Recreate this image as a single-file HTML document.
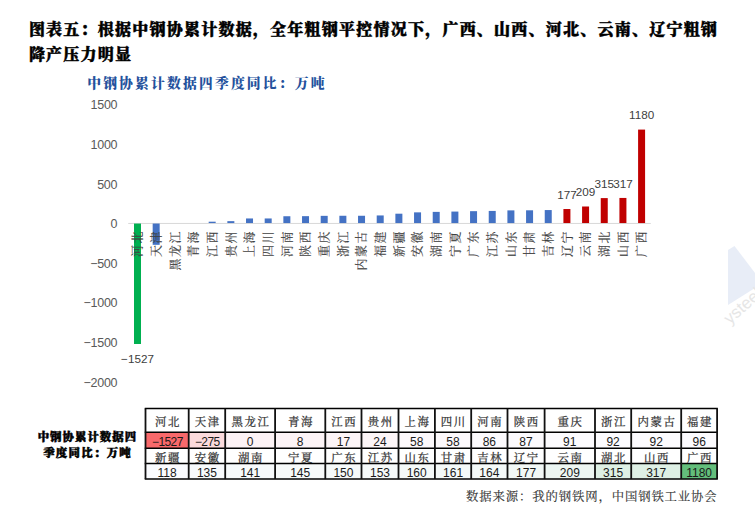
<!DOCTYPE html><html><head><meta charset="utf-8"><style>
html,body{margin:0;padding:0;background:#fff;width:755px;height:523px;overflow:hidden}
svg{display:block}
.t{font-family:"Liberation Serif","Noto Serif CJK SC",serif;font-weight:900;fill:#000}
.st{font-family:"Liberation Serif","Noto Serif CJK SC",serif;font-weight:900;fill:#24519C}
.tk{font-family:"Liberation Sans",Arial,sans-serif;fill:#595959}
.dl{font-family:"Liberation Sans",Arial,sans-serif;fill:#404040}
.cat{font-family:"Liberation Serif","Noto Serif CJK SC",serif;fill:#404040}
.tn{font-family:"Liberation Serif","Noto Serif CJK SC",serif;fill:#333}
.tv{font-family:"Liberation Sans",Arial,sans-serif;fill:#1a1a1a}
.src{font-family:"Liberation Serif","Noto Serif CJK SC",serif;fill:#333}
</style></head><body>
<svg width="755" height="523" viewBox="0 0 755 523">
<polygon points="728,250 734.5,246 755,273 755,288 728,305" fill="#E8EDF7"/>
<text x="0" y="0" font-family="Liberation Sans,sans-serif" font-size="17" fill="#E6E6E6" transform="translate(730 325) rotate(-42)">ysteel</text>
<text class="t" x="28.9" y="34.6" font-size="16" letter-spacing="1.23" stroke="#000" stroke-width="0.45">图表五：根据中钢协累计数据，全年粗钢平控情况下，广西、山西、河北、云南、辽宁粗钢</text>
<text class="t" x="28.9" y="60.1" font-size="16" letter-spacing="1.23" stroke="#000" stroke-width="0.45">降产压力明显</text>
<text class="st" x="87.2" y="88.0" font-size="13.8" letter-spacing="2.17">中钢协累计数据四季度同比：万吨</text>
<text class="tk" x="117.2" y="109.3" font-size="12.5" letter-spacing="-0.3" text-anchor="end">1500</text>
<text class="tk" x="117.2" y="149.0" font-size="12.5" letter-spacing="-0.3" text-anchor="end">1000</text>
<text class="tk" x="117.2" y="188.6" font-size="12.5" letter-spacing="-0.3" text-anchor="end">500</text>
<text class="tk" x="117.2" y="228.2" font-size="12.5" letter-spacing="-0.3" text-anchor="end">0</text>
<text class="tk" x="117.2" y="267.8" font-size="12.5" letter-spacing="-0.3" text-anchor="end">−500</text>
<text class="tk" x="117.2" y="307.4" font-size="12.5" letter-spacing="-0.3" text-anchor="end">−1000</text>
<text class="tk" x="117.2" y="347.0" font-size="12.5" letter-spacing="-0.3" text-anchor="end">−1500</text>
<text class="tk" x="117.2" y="386.6" font-size="12.5" letter-spacing="-0.3" text-anchor="end">−2000</text>
<rect x="128.2" y="222.95" width="522.6" height="1" fill="#D9D9D9"/>
<rect x="134.00" y="223.55" width="7.00" height="120.44" fill="#00B050"/>
<rect x="152.67" y="223.55" width="7.00" height="21.28" fill="#4472C4"/>
<rect x="208.68" y="221.70" width="7.00" height="1.35" fill="#4472C4"/>
<rect x="227.35" y="221.15" width="7.00" height="1.90" fill="#4472C4"/>
<rect x="246.02" y="218.46" width="7.00" height="4.59" fill="#4472C4"/>
<rect x="264.69" y="218.46" width="7.00" height="4.59" fill="#4472C4"/>
<rect x="283.36" y="216.24" width="7.00" height="6.81" fill="#4472C4"/>
<rect x="302.03" y="216.16" width="7.00" height="6.89" fill="#4472C4"/>
<rect x="320.70" y="215.84" width="7.00" height="7.21" fill="#4472C4"/>
<rect x="339.37" y="215.76" width="7.00" height="7.29" fill="#4472C4"/>
<rect x="358.04" y="215.76" width="7.00" height="7.29" fill="#4472C4"/>
<rect x="376.71" y="215.45" width="7.00" height="7.60" fill="#4472C4"/>
<rect x="395.38" y="213.70" width="7.00" height="9.35" fill="#4472C4"/>
<rect x="414.05" y="212.36" width="7.00" height="10.69" fill="#4472C4"/>
<rect x="432.72" y="211.88" width="7.00" height="11.17" fill="#4472C4"/>
<rect x="451.39" y="211.57" width="7.00" height="11.48" fill="#4472C4"/>
<rect x="470.06" y="211.17" width="7.00" height="11.88" fill="#4472C4"/>
<rect x="488.73" y="210.93" width="7.00" height="12.12" fill="#4472C4"/>
<rect x="507.40" y="210.38" width="7.00" height="12.67" fill="#4472C4"/>
<rect x="526.07" y="210.30" width="7.00" height="12.75" fill="#4472C4"/>
<rect x="544.74" y="210.06" width="7.00" height="12.99" fill="#4472C4"/>
<rect x="563.41" y="209.03" width="7.00" height="14.02" fill="#C00000"/>
<rect x="582.08" y="206.50" width="7.00" height="16.55" fill="#C00000"/>
<rect x="600.75" y="198.10" width="7.00" height="24.95" fill="#C00000"/>
<rect x="619.42" y="197.94" width="7.00" height="25.11" fill="#C00000"/>
<rect x="638.09" y="129.59" width="7.00" height="93.46" fill="#C00000"/>
<text class="cat" font-size="12" letter-spacing="1.6" text-anchor="end" dominant-baseline="central" stroke="#404040" stroke-width="0.15" transform="translate(138.20 229.8) rotate(-90)">河北</text>
<text class="cat" font-size="12" letter-spacing="1.6" text-anchor="end" dominant-baseline="central" stroke="#404040" stroke-width="0.15" transform="translate(156.87 229.8) rotate(-90)">天津</text>
<text class="cat" font-size="12" letter-spacing="1.6" text-anchor="end" dominant-baseline="central" stroke="#404040" stroke-width="0.15" transform="translate(175.54 229.8) rotate(-90)">黑龙江</text>
<text class="cat" font-size="12" letter-spacing="1.6" text-anchor="end" dominant-baseline="central" stroke="#404040" stroke-width="0.15" transform="translate(194.21 229.8) rotate(-90)">青海</text>
<text class="cat" font-size="12" letter-spacing="1.6" text-anchor="end" dominant-baseline="central" stroke="#404040" stroke-width="0.15" transform="translate(212.88 229.8) rotate(-90)">江西</text>
<text class="cat" font-size="12" letter-spacing="1.6" text-anchor="end" dominant-baseline="central" stroke="#404040" stroke-width="0.15" transform="translate(231.55 229.8) rotate(-90)">贵州</text>
<text class="cat" font-size="12" letter-spacing="1.6" text-anchor="end" dominant-baseline="central" stroke="#404040" stroke-width="0.15" transform="translate(250.22 229.8) rotate(-90)">上海</text>
<text class="cat" font-size="12" letter-spacing="1.6" text-anchor="end" dominant-baseline="central" stroke="#404040" stroke-width="0.15" transform="translate(268.89 229.8) rotate(-90)">四川</text>
<text class="cat" font-size="12" letter-spacing="1.6" text-anchor="end" dominant-baseline="central" stroke="#404040" stroke-width="0.15" transform="translate(287.56 229.8) rotate(-90)">河南</text>
<text class="cat" font-size="12" letter-spacing="1.6" text-anchor="end" dominant-baseline="central" stroke="#404040" stroke-width="0.15" transform="translate(306.23 229.8) rotate(-90)">陕西</text>
<text class="cat" font-size="12" letter-spacing="1.6" text-anchor="end" dominant-baseline="central" stroke="#404040" stroke-width="0.15" transform="translate(324.90 229.8) rotate(-90)">重庆</text>
<text class="cat" font-size="12" letter-spacing="1.6" text-anchor="end" dominant-baseline="central" stroke="#404040" stroke-width="0.15" transform="translate(343.57 229.8) rotate(-90)">浙江</text>
<text class="cat" font-size="12" letter-spacing="1.6" text-anchor="end" dominant-baseline="central" stroke="#404040" stroke-width="0.15" transform="translate(362.24 229.8) rotate(-90)">内蒙古</text>
<text class="cat" font-size="12" letter-spacing="1.6" text-anchor="end" dominant-baseline="central" stroke="#404040" stroke-width="0.15" transform="translate(380.91 229.8) rotate(-90)">福建</text>
<text class="cat" font-size="12" letter-spacing="1.6" text-anchor="end" dominant-baseline="central" stroke="#404040" stroke-width="0.15" transform="translate(399.58 229.8) rotate(-90)">新疆</text>
<text class="cat" font-size="12" letter-spacing="1.6" text-anchor="end" dominant-baseline="central" stroke="#404040" stroke-width="0.15" transform="translate(418.25 229.8) rotate(-90)">安徽</text>
<text class="cat" font-size="12" letter-spacing="1.6" text-anchor="end" dominant-baseline="central" stroke="#404040" stroke-width="0.15" transform="translate(436.92 229.8) rotate(-90)">湖南</text>
<text class="cat" font-size="12" letter-spacing="1.6" text-anchor="end" dominant-baseline="central" stroke="#404040" stroke-width="0.15" transform="translate(455.59 229.8) rotate(-90)">宁夏</text>
<text class="cat" font-size="12" letter-spacing="1.6" text-anchor="end" dominant-baseline="central" stroke="#404040" stroke-width="0.15" transform="translate(474.26 229.8) rotate(-90)">广东</text>
<text class="cat" font-size="12" letter-spacing="1.6" text-anchor="end" dominant-baseline="central" stroke="#404040" stroke-width="0.15" transform="translate(492.93 229.8) rotate(-90)">江苏</text>
<text class="cat" font-size="12" letter-spacing="1.6" text-anchor="end" dominant-baseline="central" stroke="#404040" stroke-width="0.15" transform="translate(511.60 229.8) rotate(-90)">山东</text>
<text class="cat" font-size="12" letter-spacing="1.6" text-anchor="end" dominant-baseline="central" stroke="#404040" stroke-width="0.15" transform="translate(530.27 229.8) rotate(-90)">甘肃</text>
<text class="cat" font-size="12" letter-spacing="1.6" text-anchor="end" dominant-baseline="central" stroke="#404040" stroke-width="0.15" transform="translate(548.94 229.8) rotate(-90)">吉林</text>
<text class="cat" font-size="12" letter-spacing="1.6" text-anchor="end" dominant-baseline="central" stroke="#404040" stroke-width="0.15" transform="translate(567.61 229.8) rotate(-90)">辽宁</text>
<text class="cat" font-size="12" letter-spacing="1.6" text-anchor="end" dominant-baseline="central" stroke="#404040" stroke-width="0.15" transform="translate(586.28 229.8) rotate(-90)">云南</text>
<text class="cat" font-size="12" letter-spacing="1.6" text-anchor="end" dominant-baseline="central" stroke="#404040" stroke-width="0.15" transform="translate(604.95 229.8) rotate(-90)">湖北</text>
<text class="cat" font-size="12" letter-spacing="1.6" text-anchor="end" dominant-baseline="central" stroke="#404040" stroke-width="0.15" transform="translate(623.62 229.8) rotate(-90)">山西</text>
<text class="cat" font-size="12" letter-spacing="1.6" text-anchor="end" dominant-baseline="central" stroke="#404040" stroke-width="0.15" transform="translate(642.29 229.8) rotate(-90)">广西</text>
<text class="dl" x="137.50" y="362.99" font-size="11.7" text-anchor="middle">−1527</text>
<text class="dl" x="566.91" y="198.73" font-size="11.7" text-anchor="middle">177</text>
<text class="dl" x="585.58" y="196.20" font-size="11.7" text-anchor="middle">209</text>
<text class="dl" x="604.25" y="187.80" font-size="11.7" text-anchor="middle">315</text>
<text class="dl" x="622.92" y="187.64" font-size="11.7" text-anchor="middle">317</text>
<text class="dl" x="641.59" y="119.29" font-size="11.7" text-anchor="middle">1180</text>
<rect x="145.50" y="432.30" width="43.20" height="16.00" fill="#F8696B"/>
<rect x="188.70" y="432.30" width="36.50" height="16.00" fill="#FBDADC"/>
<rect x="225.20" y="432.30" width="49.90" height="16.00" fill="#FCF2F5"/>
<rect x="275.10" y="432.30" width="50.20" height="16.00" fill="#FCF3F6"/>
<rect x="325.30" y="432.30" width="36.20" height="16.00" fill="#FCF4F7"/>
<rect x="361.50" y="432.30" width="37.00" height="16.00" fill="#FCF5F7"/>
<rect x="398.50" y="432.30" width="36.40" height="16.00" fill="#FCF8FB"/>
<rect x="434.90" y="432.30" width="36.30" height="16.00" fill="#FCF8FB"/>
<rect x="471.20" y="432.30" width="36.30" height="16.00" fill="#FCFAFD"/>
<rect x="507.50" y="432.30" width="37.10" height="16.00" fill="#FCFAFD"/>
<rect x="544.60" y="432.30" width="50.40" height="16.00" fill="#FCFBFE"/>
<rect x="595.00" y="432.30" width="36.20" height="16.00" fill="#FCFBFE"/>
<rect x="631.20" y="432.30" width="50.00" height="16.00" fill="#FCFBFE"/>
<rect x="681.20" y="432.30" width="35.90" height="16.00" fill="#FCFBFE"/>
<rect x="145.50" y="463.60" width="43.20" height="15.50" fill="#FAFBFE"/>
<rect x="188.70" y="463.60" width="36.50" height="15.50" fill="#F8FAFC"/>
<rect x="225.20" y="463.60" width="49.90" height="15.50" fill="#F7FAFB"/>
<rect x="275.10" y="463.60" width="50.20" height="15.50" fill="#F7FAFA"/>
<rect x="325.30" y="463.60" width="36.20" height="15.50" fill="#F6FAFA"/>
<rect x="361.50" y="463.60" width="37.00" height="15.50" fill="#F5F9F9"/>
<rect x="398.50" y="463.60" width="36.40" height="15.50" fill="#F4F9F8"/>
<rect x="434.90" y="463.60" width="36.30" height="15.50" fill="#F4F9F8"/>
<rect x="471.20" y="463.60" width="36.30" height="15.50" fill="#F4F9F8"/>
<rect x="507.50" y="463.60" width="37.10" height="15.50" fill="#F2F8F6"/>
<rect x="544.60" y="463.60" width="50.40" height="15.50" fill="#EDF6F2"/>
<rect x="595.00" y="463.60" width="36.20" height="15.50" fill="#DEF0E5"/>
<rect x="631.20" y="463.60" width="50.00" height="15.50" fill="#DEF0E5"/>
<rect x="681.20" y="463.60" width="35.90" height="15.50" fill="#63BE7B"/>
<line x1="144.75" x2="717.85" y1="408.50" y2="408.50" stroke="#000" stroke-width="1.5"/>
<line x1="144.75" x2="717.85" y1="432.30" y2="432.30" stroke="#000" stroke-width="1.5"/>
<line x1="144.75" x2="717.85" y1="448.30" y2="448.30" stroke="#000" stroke-width="1.5"/>
<line x1="144.75" x2="717.85" y1="463.60" y2="463.60" stroke="#000" stroke-width="1.5"/>
<line x1="144.75" x2="717.85" y1="479.10" y2="479.10" stroke="#000" stroke-width="1.5"/>
<line x1="145.50" x2="145.50" y1="408.50" y2="479.10" stroke="#111" stroke-width="1.8"/>
<line x1="188.70" x2="188.70" y1="408.50" y2="479.10" stroke="#111" stroke-width="1.8"/>
<line x1="225.20" x2="225.20" y1="408.50" y2="479.10" stroke="#111" stroke-width="1.8"/>
<line x1="275.10" x2="275.10" y1="408.50" y2="479.10" stroke="#111" stroke-width="1.8"/>
<line x1="325.30" x2="325.30" y1="408.50" y2="479.10" stroke="#111" stroke-width="1.8"/>
<line x1="361.50" x2="361.50" y1="408.50" y2="479.10" stroke="#111" stroke-width="1.8"/>
<line x1="398.50" x2="398.50" y1="408.50" y2="479.10" stroke="#111" stroke-width="1.8"/>
<line x1="434.90" x2="434.90" y1="408.50" y2="479.10" stroke="#111" stroke-width="1.8"/>
<line x1="471.20" x2="471.20" y1="408.50" y2="479.10" stroke="#111" stroke-width="1.8"/>
<line x1="507.50" x2="507.50" y1="408.50" y2="479.10" stroke="#111" stroke-width="1.8"/>
<line x1="544.60" x2="544.60" y1="408.50" y2="479.10" stroke="#111" stroke-width="1.8"/>
<line x1="595.00" x2="595.00" y1="408.50" y2="479.10" stroke="#111" stroke-width="1.8"/>
<line x1="631.20" x2="631.20" y1="408.50" y2="479.10" stroke="#111" stroke-width="1.8"/>
<line x1="681.20" x2="681.20" y1="408.50" y2="479.10" stroke="#111" stroke-width="1.8"/>
<line x1="717.10" x2="717.10" y1="408.50" y2="479.10" stroke="#111" stroke-width="1.8"/>
<text class="tn" x="167.90" y="421.50" font-size="11.4" letter-spacing="1.6" text-anchor="middle" dominant-baseline="central" stroke="#333" stroke-width="0.25">河北</text>
<text class="tv" x="167.40" y="446.00" font-size="12" text-anchor="middle" letter-spacing="-0.6">−1527</text>
<text class="tn" x="207.75" y="421.50" font-size="11.4" letter-spacing="1.6" text-anchor="middle" dominant-baseline="central" stroke="#333" stroke-width="0.25">天津</text>
<text class="tv" x="207.25" y="446.00" font-size="12" text-anchor="middle" letter-spacing="-0.6">−275</text>
<text class="tn" x="250.95" y="421.50" font-size="11.4" letter-spacing="1.6" text-anchor="middle" dominant-baseline="central" stroke="#333" stroke-width="0.25">黑龙江</text>
<text class="tv" x="250.15" y="446.00" font-size="12" text-anchor="middle">0</text>
<text class="tn" x="301.00" y="421.50" font-size="11.4" letter-spacing="1.6" text-anchor="middle" dominant-baseline="central" stroke="#333" stroke-width="0.25">青海</text>
<text class="tv" x="300.20" y="446.00" font-size="12" text-anchor="middle">8</text>
<text class="tn" x="344.20" y="421.50" font-size="11.4" letter-spacing="1.6" text-anchor="middle" dominant-baseline="central" stroke="#333" stroke-width="0.25">江西</text>
<text class="tv" x="343.40" y="446.00" font-size="12" text-anchor="middle">17</text>
<text class="tn" x="380.80" y="421.50" font-size="11.4" letter-spacing="1.6" text-anchor="middle" dominant-baseline="central" stroke="#333" stroke-width="0.25">贵州</text>
<text class="tv" x="380.00" y="446.00" font-size="12" text-anchor="middle">24</text>
<text class="tn" x="417.50" y="421.50" font-size="11.4" letter-spacing="1.6" text-anchor="middle" dominant-baseline="central" stroke="#333" stroke-width="0.25">上海</text>
<text class="tv" x="416.70" y="446.00" font-size="12" text-anchor="middle">58</text>
<text class="tn" x="453.85" y="421.50" font-size="11.4" letter-spacing="1.6" text-anchor="middle" dominant-baseline="central" stroke="#333" stroke-width="0.25">四川</text>
<text class="tv" x="453.05" y="446.00" font-size="12" text-anchor="middle">58</text>
<text class="tn" x="490.15" y="421.50" font-size="11.4" letter-spacing="1.6" text-anchor="middle" dominant-baseline="central" stroke="#333" stroke-width="0.25">河南</text>
<text class="tv" x="489.35" y="446.00" font-size="12" text-anchor="middle">86</text>
<text class="tn" x="526.85" y="421.50" font-size="11.4" letter-spacing="1.6" text-anchor="middle" dominant-baseline="central" stroke="#333" stroke-width="0.25">陕西</text>
<text class="tv" x="526.05" y="446.00" font-size="12" text-anchor="middle">87</text>
<text class="tn" x="570.60" y="421.50" font-size="11.4" letter-spacing="1.6" text-anchor="middle" dominant-baseline="central" stroke="#333" stroke-width="0.25">重庆</text>
<text class="tv" x="569.80" y="446.00" font-size="12" text-anchor="middle">91</text>
<text class="tn" x="613.90" y="421.50" font-size="11.4" letter-spacing="1.6" text-anchor="middle" dominant-baseline="central" stroke="#333" stroke-width="0.25">浙江</text>
<text class="tv" x="613.10" y="446.00" font-size="12" text-anchor="middle">92</text>
<text class="tn" x="657.00" y="421.50" font-size="11.4" letter-spacing="1.6" text-anchor="middle" dominant-baseline="central" stroke="#333" stroke-width="0.25">内蒙古</text>
<text class="tv" x="656.20" y="446.00" font-size="12" text-anchor="middle">92</text>
<text class="tn" x="699.95" y="421.50" font-size="11.4" letter-spacing="1.6" text-anchor="middle" dominant-baseline="central" stroke="#333" stroke-width="0.25">福建</text>
<text class="tv" x="699.15" y="446.00" font-size="12" text-anchor="middle">96</text>
<text class="tn" x="167.90" y="457.70" font-size="11.4" letter-spacing="1.6" text-anchor="middle" dominant-baseline="central" stroke="#333" stroke-width="0.25">新疆</text>
<text class="tv" x="167.10" y="477.30" font-size="12" text-anchor="middle">118</text>
<text class="tn" x="207.75" y="457.70" font-size="11.4" letter-spacing="1.6" text-anchor="middle" dominant-baseline="central" stroke="#333" stroke-width="0.25">安徽</text>
<text class="tv" x="206.95" y="477.30" font-size="12" text-anchor="middle">135</text>
<text class="tn" x="250.95" y="457.70" font-size="11.4" letter-spacing="1.6" text-anchor="middle" dominant-baseline="central" stroke="#333" stroke-width="0.25">湖南</text>
<text class="tv" x="250.15" y="477.30" font-size="12" text-anchor="middle">141</text>
<text class="tn" x="301.00" y="457.70" font-size="11.4" letter-spacing="1.6" text-anchor="middle" dominant-baseline="central" stroke="#333" stroke-width="0.25">宁夏</text>
<text class="tv" x="300.20" y="477.30" font-size="12" text-anchor="middle">145</text>
<text class="tn" x="344.20" y="457.70" font-size="11.4" letter-spacing="1.6" text-anchor="middle" dominant-baseline="central" stroke="#333" stroke-width="0.25">广东</text>
<text class="tv" x="343.40" y="477.30" font-size="12" text-anchor="middle">150</text>
<text class="tn" x="380.80" y="457.70" font-size="11.4" letter-spacing="1.6" text-anchor="middle" dominant-baseline="central" stroke="#333" stroke-width="0.25">江苏</text>
<text class="tv" x="380.00" y="477.30" font-size="12" text-anchor="middle">153</text>
<text class="tn" x="417.50" y="457.70" font-size="11.4" letter-spacing="1.6" text-anchor="middle" dominant-baseline="central" stroke="#333" stroke-width="0.25">山东</text>
<text class="tv" x="416.70" y="477.30" font-size="12" text-anchor="middle">160</text>
<text class="tn" x="453.85" y="457.70" font-size="11.4" letter-spacing="1.6" text-anchor="middle" dominant-baseline="central" stroke="#333" stroke-width="0.25">甘肃</text>
<text class="tv" x="453.05" y="477.30" font-size="12" text-anchor="middle">161</text>
<text class="tn" x="490.15" y="457.70" font-size="11.4" letter-spacing="1.6" text-anchor="middle" dominant-baseline="central" stroke="#333" stroke-width="0.25">吉林</text>
<text class="tv" x="489.35" y="477.30" font-size="12" text-anchor="middle">164</text>
<text class="tn" x="526.85" y="457.70" font-size="11.4" letter-spacing="1.6" text-anchor="middle" dominant-baseline="central" stroke="#333" stroke-width="0.25">辽宁</text>
<text class="tv" x="526.05" y="477.30" font-size="12" text-anchor="middle">177</text>
<text class="tn" x="570.60" y="457.70" font-size="11.4" letter-spacing="1.6" text-anchor="middle" dominant-baseline="central" stroke="#333" stroke-width="0.25">云南</text>
<text class="tv" x="569.80" y="477.30" font-size="12" text-anchor="middle">209</text>
<text class="tn" x="613.90" y="457.70" font-size="11.4" letter-spacing="1.6" text-anchor="middle" dominant-baseline="central" stroke="#333" stroke-width="0.25">湖北</text>
<text class="tv" x="613.10" y="477.30" font-size="12" text-anchor="middle">315</text>
<text class="tn" x="657.00" y="457.70" font-size="11.4" letter-spacing="1.6" text-anchor="middle" dominant-baseline="central" stroke="#333" stroke-width="0.25">山西</text>
<text class="tv" x="656.20" y="477.30" font-size="12" text-anchor="middle">317</text>
<text class="tn" x="699.95" y="457.70" font-size="11.4" letter-spacing="1.6" text-anchor="middle" dominant-baseline="central" stroke="#333" stroke-width="0.25">广西</text>
<text class="tv" x="699.15" y="477.30" font-size="12" text-anchor="middle">1180</text>
<text class="t" x="87.4" y="440.9" font-size="11.4" letter-spacing="1.05" text-anchor="middle" stroke="#000" stroke-width="0.55">中钢协累计数据四</text>
<text class="t" x="87.6" y="456.9" font-size="11.4" letter-spacing="1.3" text-anchor="middle" stroke="#000" stroke-width="0.55">季度同比：万吨</text>
<text class="src" x="717.6" y="500.6" font-size="12.4" text-anchor="end" letter-spacing="0.85" stroke="#333" stroke-width="0.12">数据来源：我的钢铁网，中国钢铁工业协会</text>
</svg></body></html>
